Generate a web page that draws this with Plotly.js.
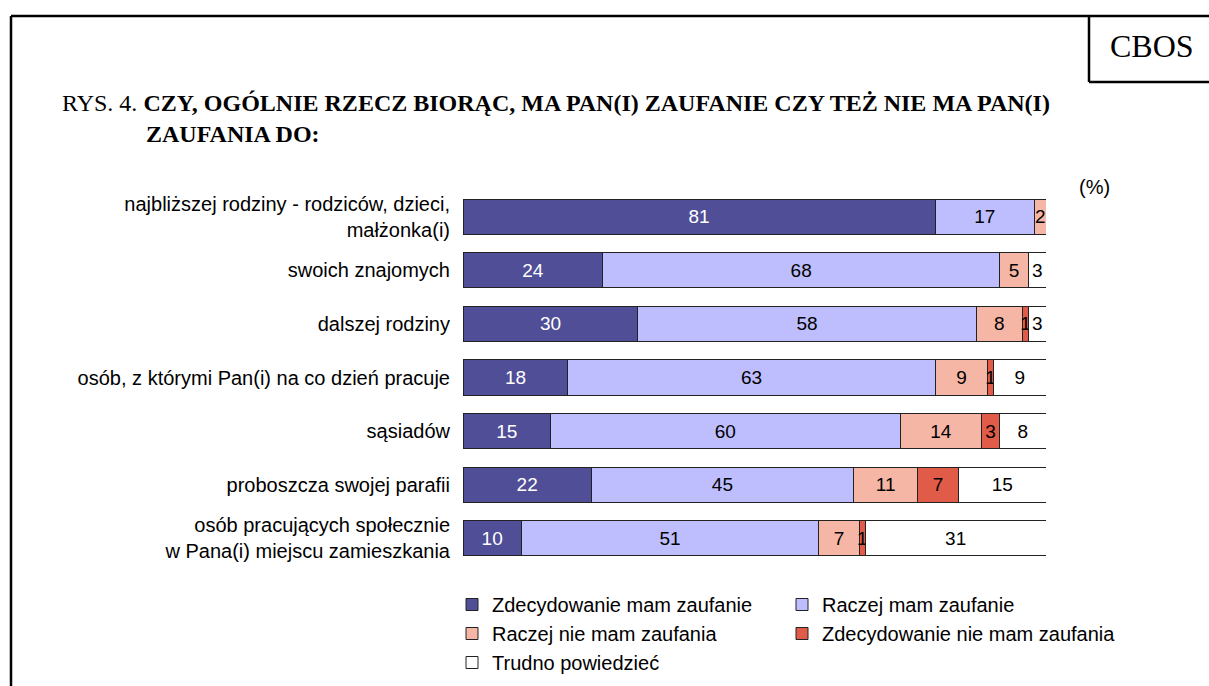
<!DOCTYPE html>
<html>
<head>
<meta charset="utf-8">
<script src="https://cdn.plot.ly/plotly-3.0.1.min.js"></script>
<style>html,body{margin:0;padding:0;background:#fff;}#chart{width:1209px;height:686px;}</style>
</head>
<body>
<div id="chart"></div>
<script>
var categories = [
  "najbliższej rodziny - rodziców, dzieci,<br>małżonka(i)",
  "swoich znajomych",
  "dalszej rodziny",
  "osób, z którymi Pan(i) na co dzień pracuje",
  "sąsiadów",
  "proboszcza swojej parafii",
  "osób pracujących społecznie<br>w Pana(i) miejscu zamieszkania"
];
var seriesNames = [
  "Zdecydowanie mam zaufanie",
  "Raczej mam zaufanie",
  "Raczej nie mam zaufania",
  "Zdecydowanie nie mam zaufania",
  "Trudno powiedzieć"
];
var zdecydowanieMam = [81, 24, 30, 18, 15, 22, 10];
var raczejMam       = [17, 68, 58, 63, 60, 45, 51];
var raczejNieMam    = [2, 5, 8, 9, 14, 11, 7];
var zdecydowanieNie = [0, 0, 1, 1, 3, 7, 1];
var trudno          = [0, 3, 3, 9, 8, 15, 31];

var values = [zdecydowanieMam, raczejMam, raczejNieMam, zdecydowanieNie, trudno];
var colors = ["#4F4E96", "#BEBEFE", "#F6B6A6", "#E05B48", "#FFFFFF"];
var textColors = ["#FFFFFF", "#000000", "#000000", "#000000", "#000000"];
var legendIds = ["legend", "legend2", "legend", "legend2", "legend"];

var FONT = "Liberation Sans, Arial, sans-serif";
var SERIF = "Liberation Serif, Times New Roman, serif";

var traces = values.map(function (vals, i) {
  return {
    type: "bar",
    orientation: "h",
    name: seriesNames[i],
    y: categories,
    x: vals,
    text: vals.map(function (v) { return v > 0 ? String(v) : ""; }),
    textposition: "inside",
    insidetextanchor: "middle",
    constraintext: "none",
    textangle: 0,
    textfont: {family: FONT, size: 19, color: textColors[i]},
    marker: {color: colors[i], line: {color: "#222222", width: 1}},
    legend: legendIds[i],
    legendgroup: "g" + i,
    hoverinfo: "name+x"
  };
});

// plot area in pixels
var L = 463, R = 1046, T = 190, B = 565;
function px(x) { return (x - L) / (R - L); }
function py(y) { return (B - y) / (B - T); }

var nb = "\u00a0";
var indent = "";
for (var k = 0; k < 14; k++) indent += nb;

var layout = {
  width: 1209,
  height: 686,
  paper_bgcolor: "#FFFFFF",
  plot_bgcolor: "#FFFFFF",
  margin: {l: L, r: 1209 - R, t: T, b: 686 - B, pad: 0, autoexpand: false},
  barmode: "stack",
  bargap: 0.346,
  showlegend: true,
  font: {family: FONT, size: 20, color: "#000000"},
  title: {
    text: "RYS. 4. <b>CZY, OGÓLNIE RZECZ BIORĄC, MA PAN(I) ZAUFANIE CZY TEŻ NIE MA PAN(I)</b><br>" + indent + "<b>ZAUFANIA DO:</b>",
    font: {family: SERIF, size: 24, color: "#000000"},
    xref: "container", yref: "container",
    x: 62 / 1209, xanchor: "left",
    y: 1 - 111 / 686, yanchor: "top"
  },
  xaxis: {range: [0, 100], visible: false, fixedrange: true},
  yaxis: {
    autorange: "reversed",
    showgrid: false, zeroline: false, showline: false,
    ticks: "", ticklabelstandoff: 12,
    tickfont: {family: FONT, size: 20, color: "#000000"},
    fixedrange: true
  },
  legend: {
    x: px(452), xanchor: "left",
    y: py(585), yanchor: "top",
    orientation: "v",
    traceorder: "grouped",
    tracegroupgap: 0,
    font: {family: FONT, size: 20, color: "#000000"},
    bgcolor: "rgba(0,0,0,0)"
  },
  legend2: {
    x: px(782), xanchor: "left",
    y: py(585), yanchor: "top",
    orientation: "v",
    traceorder: "grouped",
    tracegroupgap: 0,
    font: {family: FONT, size: 20, color: "#000000"},
    bgcolor: "rgba(0,0,0,0)"
  },
  annotations: [
    {text: "CBOS", xref: "paper", yref: "paper", x: px(1152), y: py(46),
     xanchor: "center", yanchor: "middle", showarrow: false,
     font: {family: SERIF, size: 32, color: "#000000"}},
    {text: "(%)", xref: "paper", yref: "paper", x: px(1094), y: py(187),
     xanchor: "center", yanchor: "middle", showarrow: false,
     font: {family: FONT, size: 20, color: "#000000"}}
  ],
  shapes: [
    {type: "line", xref: "paper", yref: "paper", x0: px(11), x1: px(1212), y0: py(16), y1: py(16), line: {color: "#000", width: 2.5}},
    {type: "line", xref: "paper", yref: "paper", x0: px(11), x1: px(11), y0: py(16), y1: py(690), line: {color: "#000", width: 2.5}},
    {type: "line", xref: "paper", yref: "paper", x0: px(1089), x1: px(1089), y0: py(16), y1: py(82), line: {color: "#000", width: 2.5}},
    {type: "line", xref: "paper", yref: "paper", x0: px(1089), x1: px(1212), y0: py(82), y1: py(82), line: {color: "#000", width: 2.5}}
  ]
};

Plotly.newPlot("chart", traces, layout, {displayModeBar: false, staticPlot: true});
</script>
</body>
</html>
